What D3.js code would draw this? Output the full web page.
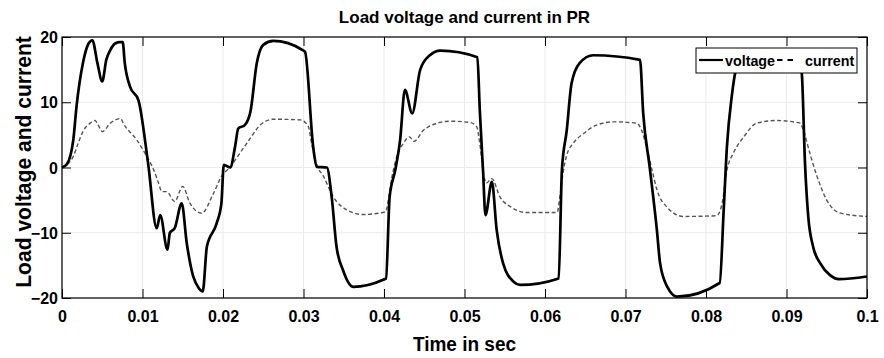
<!DOCTYPE html>
<html>
<head>
<meta charset="utf-8">
<script src="https://cdn.jsdelivr.net/npm/d3@7"></script>
<style>
  body { margin: 0; background: #fff; }
  text { font-family: Arial, "Liberation Sans", Helvetica, sans-serif; font-weight: bold; }
</style>
</head>
<body>
<svg id="chart" width="884" height="358"></svg>
<script>
// time axis ticks and value ticks
var xTicks = [0, 0.01, 0.02, 0.03, 0.04, 0.05, 0.06, 0.07, 0.08, 0.09, 0.1];
var yTicks = [-20, -10, 0, 10, 20];

// load voltage samples (sec, V)
var voltT = [0, 0.0006, 0.0014, 0.0018, 0.0026, 0.0033, 0.00377, 0.0044, 0.005, 0.0055, 0.006, 0.0066, 0.0072, 0.00754,
  0.0078, 0.00845, 0.0095, 0.0107, 0.01176, 0.0122, 0.0131, 0.0134, 0.014, 0.01487, 0.0155, 0.0163, 0.017, 0.01748,
  0.018, 0.0192, 0.0198, 0.0201, 0.0209, 0.0215, 0.0219, 0.0227, 0.0234, 0.0242, 0.025, 0.02625, 0.0299, 0.0302,
  0.0312, 0.03164, 0.0329, 0.0335, 0.0341, 0.0349, 0.0362, 0.0399, 0.04025, 0.0407, 0.0414, 0.042, 0.0426, 0.0435,
  0.0445, 0.0457, 0.047, 0.0516, 0.0519, 0.0523, 0.0526, 0.0534, 0.054, 0.0548, 0.0561, 0.0569, 0.0617, 0.0621,
  0.0627, 0.0633, 0.0643, 0.066, 0.0718, 0.0722, 0.073, 0.0739, 0.0743, 0.0752, 0.0764, 0.0817, 0.0822, 0.0826,
  0.0832, 0.0838, 0.0848, 0.086, 0.0915, 0.0919, 0.0923, 0.0927, 0.0933, 0.0942, 0.0954, 0.0965, 0.1];
var voltV = [0, 0.5, 4.2, 9.3, 16, 19, 19.5, 16, 13.2, 16.5, 18, 19, 19.2, 19.2,
  16, 12.4, 10.3, 0.6, -9.3, -7.3, -12.6, -10, -9.3, -5.5, -11.6, -16.7, -18.5, -19,
  -12.1, -8.6, -5.5, 0.4, 0, 3.2, 6, 6.5, 8.5, 16, 18.8, 19.4, 18, 17.7,
  3.2, 0.1, 0, -4.5, -12.1, -15.7, -18.3, -17.2, -17, -4.5, -0.4, 4.2, 11.9, 8.3,
  15, 17.2, 17.9, 16.9, 8.8, -0.4, -7.3, -2.2, -9.6, -14.7, -17.5, -18, -17, -0.4,
  5.7, 12.9, 16, 17.2, 16.5, 8.3, 0.1, -9.6, -14.7, -18.3, -19.8, -17.7, -6.5, 3.2,
  10.9, 15.4, 17.2, 17.5, 16.8, 14.4, 0.6, -7.5, -12.1, -14.7, -16.5, -17.1, -16.7];

// load current samples (sec, A)
var currT = [0, 0.0014, 0.002, 0.0026, 0.0035, 0.0041, 0.0045, 0.005, 0.006, 0.0073, 0.0076, 0.0093, 0.0103, 0.0114,
  0.012, 0.0124, 0.013, 0.014, 0.015, 0.0159, 0.01735, 0.0188, 0.0198, 0.0209, 0.0221, 0.0234, 0.0246, 0.02625,
  0.0296, 0.0306, 0.031, 0.0316, 0.0325, 0.0337, 0.0354, 0.0374, 0.0402, 0.0406, 0.041, 0.0416, 0.0424, 0.0432,
  0.0437, 0.0449, 0.0466, 0.0482, 0.0507, 0.0515, 0.0519, 0.0523, 0.0527, 0.0534, 0.0544, 0.0557, 0.0577, 0.0615,
  0.0619, 0.0623, 0.0627, 0.0635, 0.0648, 0.0664, 0.0685, 0.0714, 0.072, 0.0726, 0.0733, 0.0739, 0.0751, 0.0772,
  0.0813, 0.082, 0.0826, 0.0834, 0.0847, 0.0863, 0.0888, 0.0917, 0.0921, 0.0929, 0.0938, 0.095, 0.0967, 0.1];
var currV = [0, 1.7, 3.7, 5.5, 6.8, 7.2, 6.5, 5.5, 6.8, 7.5, 6.8, 4.2, 2.2, -0.4,
  -2.4, -3.7, -3.7, -5.2, -2.9, -5.5, -7, -4, -1.4, 0.1, 2.2, 4.5, 6.5, 7.4,
  7.3, 6.3, 3.7, 0.6, -1.4, -4.5, -6.5, -7.2, -6.8, -4.5, -1.4, 1.7, 3.7, 4.7,
  4, 5.7, 6.8, 7.1, 6.9, 6.3, 3.7, -0.4, -2.4, -1.7, -4.5, -6, -6.9, -6.9,
  -4, -0.4, 1.9, 3.7, 5.2, 6.5, 7, 6.8, 5.7, 3.2, -0.4, -3.4, -6, -7.5,
  -7.4, -5.5, -0.4, 2.2, 4.7, 6.8, 7.2, 6.8, 5.7, 2.2, -1.4, -5, -7, -7.5];

var legendNames = ["voltage", "current"];

var svg = d3.select("#chart");
var margin = { top: 37, right: 17, bottom: 60, left: 62 };
var width = 884 - margin.left - margin.right;
var height = 358 - margin.top - margin.bottom;

var x = d3.scaleLinear().domain([0, 0.1]).range([0, width]);
var y = d3.scaleLinear().domain([-20, 20]).range([height, 0]);

var g = svg.append("g")
  .attr("transform", "translate(" + margin.left + "," + margin.top + ")");

// grid
g.selectAll(".vgrid").data(xTicks).enter().append("line")
  .attr("x1", function(d) { return x(d); }).attr("x2", function(d) { return x(d); })
  .attr("y1", 0).attr("y2", height)
  .attr("stroke", "#ebebeb").attr("stroke-width", 1);
g.selectAll(".hgrid").data(yTicks).enter().append("line")
  .attr("x1", 0).attr("x2", width)
  .attr("y1", function(d) { return y(d); }).attr("y2", function(d) { return y(d); })
  .attr("stroke", "#ebebeb").attr("stroke-width", 1);

// data lines
var voltData = voltT.map(function(t, i) { return [t, voltV[i]]; });
var currData = currT.map(function(t, i) { return [t, currV[i]]; });

var line = d3.line()
  .x(function(d) { return x(d[0]); })
  .y(function(d) { return y(d[1]); })
  .curve(d3.curveMonotoneX);

g.append("path").datum(currData)
  .attr("d", line)
  .attr("fill", "none")
  .attr("stroke", "#555")
  .attr("stroke-width", 1.4)
  .attr("stroke-dasharray", "4,2.5");

g.append("path").datum(voltData)
  .attr("d", line)
  .attr("fill", "none")
  .attr("stroke", "#000")
  .attr("stroke-width", 2.7)
  .attr("stroke-linejoin", "round");

// axes, MATLAB style box with inward ticks
var tickLen = 9;
var xAxisG = g.append("g").attr("transform", "translate(0," + height + ")")
  .call(d3.axisBottom(x).tickValues(xTicks).tickSizeInner(-tickLen).tickSizeOuter(0)
    .tickFormat(function(d) { return d === 0 ? "0" : String(+d.toFixed(2)); }));
g.append("g")
  .call(d3.axisTop(x).tickValues(xTicks).tickSizeInner(-tickLen).tickSizeOuter(0).tickFormat(""));
var yAxisG = g.append("g")
  .call(d3.axisLeft(y).tickValues(yTicks).tickSizeInner(-tickLen).tickSizeOuter(0));
g.append("g").attr("transform", "translate(" + width + ",0)")
  .call(d3.axisRight(y).tickValues(yTicks).tickSizeInner(-tickLen).tickSizeOuter(0).tickFormat(""));

g.selectAll(".domain").remove();
g.append("rect").attr("width", width).attr("height", height)
  .attr("fill", "none").attr("stroke", "#000").attr("stroke-width", 1.2);
g.selectAll(".tick line").attr("stroke", "#000");
g.selectAll(".tick text")
  .attr("fill", "#000")
  .attr("font-size", 16)
  .style("font-size", "16px")
  .style("font-family", "Arial, 'Liberation Sans', sans-serif")
  .style("font-weight", "bold");
xAxisG.selectAll(".tick text").attr("dy", "0").attr("y", 24);
yAxisG.selectAll(".tick text").attr("x", -4).attr("dy", "0.35em");

// legend
var lg = g.append("g").attr("transform", "translate(" + (696 - margin.left) + "," + (48 - margin.top) + ")");
lg.append("rect").attr("width", 161).attr("height", 25)
  .attr("fill", "#fff").attr("stroke", "#000").attr("stroke-width", 1);
lg.append("line").attr("x1", 3).attr("x2", 27).attr("y1", 12).attr("y2", 12)
  .attr("stroke", "#000").attr("stroke-width", 2.2);
lg.append("text").attr("x", 29).attr("y", 18).text(legendNames[0])
  .style("font-size", "14.3px");
lg.append("line").attr("x1", 81).attr("x2", 97).attr("y1", 12).attr("y2", 12)
  .attr("stroke", "#000").attr("stroke-width", 2).attr("stroke-dasharray", "5.5,5");
lg.append("text").attr("x", 109).attr("y", 18).text(legendNames[1])
  .style("font-size", "14.3px");

// titles
svg.append("text")
  .attr("x", margin.left + width / 2).attr("y", 23)
  .attr("text-anchor", "middle")
  .style("font-size", "17px")
  .text("Load voltage and current in PR");

svg.append("text")
  .attr("transform", "translate(" + (margin.left + width / 2) + ",351) scale(1,1.1)")
  .attr("text-anchor", "middle")
  .style("font-size", "19px")
  .text("Time in sec");

svg.append("text")
  .attr("transform", "translate(31,162) scale(1.1,1.08) rotate(-90)")
  .attr("text-anchor", "middle")
  .style("font-size", "19.5px")
  .text("Load voltage and current");
</script>
</body>
</html>
